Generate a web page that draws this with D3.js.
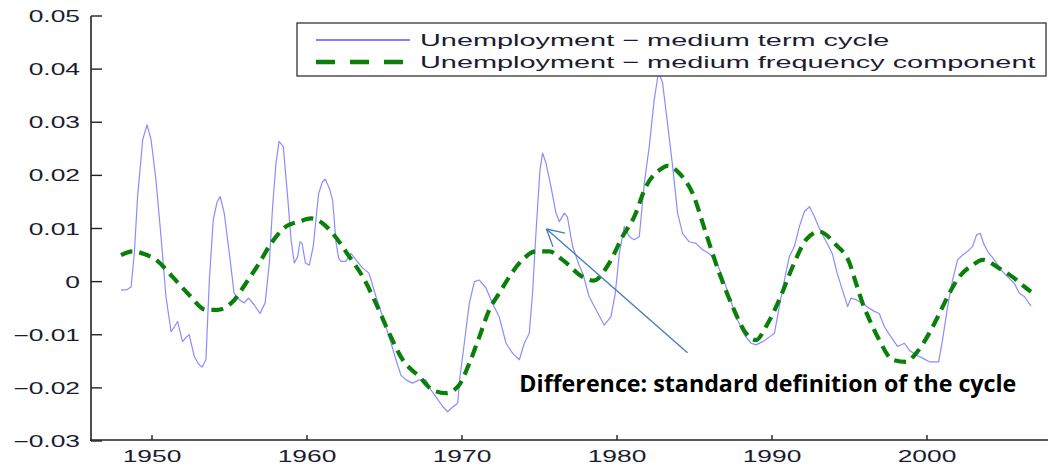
<!DOCTYPE html>
<html lang="en">
<head>
<meta charset="utf-8">
<title>Unemployment cycle</title>
<script src="https://cdn.jsdelivr.net/npm/d3@7"></script>
<style>
  body { margin: 0; background: #fff; }
  svg { display: block; }
  .tick-label { font-family: "Liberation Sans", Arial, sans-serif; font-size: 16px; fill: #1c1c30; }
  .legend-label { font-family: "Liberation Sans", Arial, sans-serif; font-size: 17px; fill: #1c1c30; }
  .note { font-family: "Open Sans", "Noto Sans", sans-serif; font-weight: bold; font-size: 24px; fill: #000; }
</style>
</head>
<body>
<div id="chart"></div>
<script>
// medium term cycle (thin blue line)
var blueYears = [1948.0, 1948.4, 1948.65, 1948.86, 1949.07, 1949.4, 1949.68, 1949.94, 1950.26, 1950.58, 1950.9,
  1951.23, 1951.45, 1951.65, 1951.97, 1952.2, 1952.4, 1952.73, 1953.0, 1953.23, 1953.48, 1953.7, 1953.95,
  1954.2, 1954.4, 1954.66, 1954.99, 1955.3, 1955.63, 1955.95, 1956.23, 1956.6, 1956.97, 1957.3, 1957.57,
  1957.78, 1958.0, 1958.2, 1958.47, 1958.75, 1958.97, 1959.18, 1959.4, 1959.55, 1959.68, 1959.9, 1960.15,
  1960.4, 1960.75, 1961.0, 1961.18, 1961.45, 1961.65, 1961.87, 1962.04, 1962.2, 1962.5, 1962.84, 1963.16,
  1963.6, 1964.0, 1964.45, 1964.88, 1965.3, 1965.74, 1966.06, 1966.39, 1966.8, 1967.25, 1967.68, 1968.0,
  1968.32, 1968.75, 1969.07, 1969.44, 1969.72, 1969.87, 1970.15, 1970.47, 1970.8, 1971.12, 1971.55, 1971.97,
  1972.4, 1972.84, 1973.27, 1973.7, 1974.02, 1974.34, 1974.55, 1974.77, 1975.03, 1975.2, 1975.42, 1975.74,
  1976.06, 1976.28, 1976.6, 1976.8, 1977.14, 1977.57, 1977.8, 1978.2, 1978.65, 1979.18, 1979.61, 1979.89,
  1980.15, 1980.47, 1980.79, 1981.11, 1981.44, 1981.76, 1982.08, 1982.4, 1982.68, 1982.94, 1983.26, 1983.59,
  1983.91, 1984.23, 1984.66, 1985.1, 1985.52, 1985.95, 1986.39, 1986.81, 1987.25, 1987.68, 1988.21, 1988.65,
  1988.97, 1989.4, 1989.84, 1990.16, 1990.47, 1990.8, 1991.12, 1991.44, 1991.77, 1992.09, 1992.42, 1992.74,
  1993.06, 1993.5, 1993.9, 1994.2, 1994.55, 1994.88, 1995.1, 1995.42, 1995.85, 1996.28, 1996.6, 1996.92,
  1997.25, 1997.68, 1998.1, 1998.54, 1998.86, 1999.29, 1999.72, 2000.15, 2000.47, 2000.75, 2001.0, 2001.33,
  2001.65, 2001.97, 2002.3, 2002.62, 2002.94, 2003.2, 2003.44, 2003.65, 2003.91, 2004.34, 2004.78, 2005.2,
  2005.63, 2005.96, 2006.28, 2006.71];
var blueValues = [-0.0016, -0.0015, -0.001, 0.0053, 0.016, 0.0267, 0.0295, 0.0267, 0.019, 0.0085, -0.0028,
  -0.0094, -0.0085, -0.0075, -0.0113, -0.0105, -0.010, -0.0141, -0.0155, -0.0161, -0.0147, 0.0003, 0.0116,
  0.015, 0.016, 0.0129, 0.0053, -0.0022, -0.0034, -0.004, -0.0031, -0.0044, -0.006, -0.004, 0.0035,
  0.0141, 0.0223, 0.0264, 0.0254, 0.016, 0.0079, 0.0035, 0.0047, 0.0075, 0.0072, 0.0035, 0.0031,
  0.0066, 0.0166, 0.0188, 0.0193, 0.0175, 0.0154, 0.0075, 0.0044, 0.0038, 0.0038, 0.0053, 0.0041,
  0.0025, 0.0016, -0.0028, -0.0066, -0.0104, -0.0147, -0.0176, -0.0185, -0.0191, -0.0185, -0.0185, -0.0204,
  -0.0217, -0.0235, -0.0245, -0.0235, -0.0229, -0.0179, -0.0116, -0.0041, 0.0, 0.0003, -0.0012, -0.0041,
  -0.0066, -0.0116, -0.0135, -0.0147, -0.0116, -0.0097, -0.0022, 0.0091, 0.021, 0.0242, 0.0223, 0.0179,
  0.0129, 0.0113, 0.0129, 0.0122, 0.0066, 0.003, 0.0015, -0.0028, -0.0053, -0.0082, -0.0066, -0.0022,
  0.0053, 0.0104, 0.0085, 0.0079, 0.0085, 0.0185, 0.0254, 0.0342, 0.0395, 0.0374, 0.0298, 0.0217,
  0.0129, 0.0091, 0.0075, 0.0072, 0.006, 0.0053, 0.0038, 0.0009, -0.0028, -0.0066, -0.01, -0.0116,
  -0.0119, -0.0113, -0.0104, -0.0097, -0.0047, 0.0003, 0.0047, 0.0066, 0.0104, 0.0132, 0.0141, 0.0122,
  0.010, 0.0075, 0.0052, 0.0016, -0.0016, -0.0047, -0.0031, -0.0034, -0.0041, -0.005, -0.0056, -0.006,
  -0.0085, -0.0104, -0.0122, -0.0116, -0.0129, -0.0138, -0.0144, -0.0151, -0.0151, -0.0151, -0.011, -0.0047,
  0.0003, 0.0041, 0.005, 0.0057, 0.0066, 0.0088, 0.0091, 0.0072, 0.0057, 0.0041, 0.0022, 0.0009,
  -0.0003, -0.0022, -0.0028, -0.0046];

// medium frequency component (green dashed)
var greenYears = [1948.0, 1948.75, 1949.5, 1950.26, 1951.33, 1952.4, 1953.48, 1954.23, 1955.2, 1956.06, 1956.92,
  1957.68, 1958.65, 1959.5, 1960.26, 1961.0, 1961.65, 1962.73, 1963.6, 1964.45, 1965.3, 1966.17, 1967.25,
  1968.11, 1968.97, 1969.83, 1970.47, 1971.12, 1971.76, 1972.4, 1973.05, 1973.9, 1974.77, 1975.63, 1976.49,
  1977.78, 1978.5, 1979.5, 1980.36, 1981.11, 1981.87, 1982.73, 1983.26, 1984.02, 1984.88, 1985.74, 1986.6,
  1987.46, 1988.32, 1988.97, 1989.6, 1990.47, 1991.33, 1992.2, 1993.06, 1994.1, 1995.0, 1995.42, 1995.85,
  1996.39, 1996.92, 1997.78, 1998.65, 1999.29, 2000.15, 2000.8, 2001.44, 2002.08, 2002.94, 2003.59, 2004.66,
  2005.52, 2006.39, 2006.71];
var greenValues = [0.005, 0.0057, 0.0052, 0.0041, 0.0009, -0.0025, -0.0053, -0.0053, -0.0038, -0.0003, 0.0035,
  0.0072, 0.0104, 0.0113, 0.0119, 0.011, 0.0091, 0.0047, 0.0009, -0.0041, -0.0097, -0.0147, -0.0179,
  -0.0204, -0.021, -0.0194, -0.0154, -0.0104, -0.0053, -0.0022, 0.0009, 0.0041, 0.0057, 0.0057, 0.0041,
  0.0009, 0.0002, 0.0035, 0.0085, 0.0122, 0.0179, 0.021, 0.0218, 0.0204, 0.0166, 0.0091, 0.0016,
  -0.0047, -0.0097, -0.011, -0.0085, -0.0034, 0.0028, 0.0079, 0.0094, 0.0070, 0.0035, -0.0003, -0.0041,
  -0.0078, -0.011, -0.0147, -0.0151, -0.0135, -0.0097, -0.006, -0.0022, 0.0009, 0.0031, 0.0041, 0.0025,
  0.0009, -0.0012, -0.0019];

var xTicks = [1950, 1960, 1970, 1980, 1990, 2000];
var yTicks = [-0.03, -0.02, -0.01, 0, 0.01, 0.02, 0.03, 0.04, 0.05];
var legendLabels = ["Unemployment \u2212 medium term cycle", "Unemployment \u2212 medium frequency component"];
var noteText = "Difference: standard definition of the cycle";
// arrow tail / tip and note position, in data units (year, value)
var arrowFrom = [1984.55, -0.0134], arrowTo = [1975.45, 0.0099];
var notePos = [1973.7, -0.0208];

var W = 1048, H = 470;
var stretch = 1.65; // the original figure is stretched sideways

var svg = d3.select("#chart").append("svg").attr("width", W).attr("height", H);

var x = d3.scaleLinear().domain([1946, 2008]).range([90, 1051]);
var y = d3.scaleLinear().domain([-0.03, 0.05]).range([441, 16]);

var blue = blueYears.map(function(d, i) { return [d, blueValues[i]]; });
var green = greenYears.map(function(d, i) { return [d, greenValues[i]]; });

var line = d3.line().x(function(d) { return x(d[0]); }).y(function(d) { return y(d[1]); });

svg.append("path")
    .datum(blue)
    .attr("d", line)
    .attr("fill", "none")
    .attr("stroke", "#8c8cff")
    .attr("stroke-width", 1.2)
    .attr("stroke-linejoin", "round");

svg.append("path")
    .datum(green)
    .attr("d", line.curve(d3.curveMonotoneX))
    .attr("fill", "none")
    .attr("stroke", "#0a800a")
    .attr("stroke-width", 4.2)
    .attr("stroke-dasharray", "12,7");

// axes
svg.append("line").attr("x1", 91).attr("x2", 91).attr("y1", y(0.05)).attr("y2", 441)
    .attr("stroke", "#222").attr("stroke-width", 1.6);
svg.append("line").attr("x1", 90).attr("x2", W).attr("y1", 440).attr("y2", 440)
    .attr("stroke", "#222").attr("stroke-width", 1.6);

var fmt = function(v) {
  if (Math.abs(v) < 1e-9) return "0";
  return (v < 0 ? "\u2212" : "") + d3.format(".2f")(Math.abs(v));
};

yTicks.forEach(function(v) {
  svg.append("line").attr("x1", 91).attr("x2", 102).attr("y1", y(v)).attr("y2", y(v))
      .attr("stroke", "#222").attr("stroke-width", 1.4);
  svg.append("text").attr("class", "tick-label")
      .attr("transform", "translate(80," + (y(v) + 6) + ") scale(" + stretch + ",1)")
      .attr("text-anchor", "end")
      .text(fmt(v));
});

xTicks.forEach(function(t) {
  svg.append("line").attr("x1", x(t)).attr("x2", x(t)).attr("y1", 440).attr("y2", 435)
      .attr("stroke", "#222").attr("stroke-width", 1.4);
  svg.append("text").attr("class", "tick-label")
      .attr("transform", "translate(" + x(t) + ",462) scale(" + stretch + ",1)")
      .attr("text-anchor", "middle")
      .text(t);
});

// legend
var lg = svg.append("g");
lg.append("rect").attr("x", 297).attr("y", 23).attr("width", 749).attr("height", 53)
    .attr("fill", "#fff").attr("stroke", "#333").attr("stroke-width", 1.3);
lg.append("line").attr("x1", 316).attr("x2", 410).attr("y1", 40).attr("y2", 40)
    .attr("stroke", "#0000ff").attr("stroke-width", 1.2);
lg.append("line").attr("x1", 316).attr("x2", 410).attr("y1", 62).attr("y2", 62)
    .attr("stroke", "#0a800a").attr("stroke-width", 4.5).attr("stroke-dasharray", "19,15");
legendLabels.forEach(function(s, i) {
  lg.append("text").attr("class", "legend-label")
      .attr("transform", "translate(420," + (46 + i * 22) + ") scale(1.7,1)")
      .text(s);
});

// annotation
var ax1 = x(arrowFrom[0]), ay1 = y(arrowFrom[1]), ax2 = x(arrowTo[0]), ay2 = y(arrowTo[1]);
var ang = Math.atan2(ay2 - ay1, ax2 - ax1);
svg.append("line").attr("x1", ax1).attr("y1", ay1).attr("x2", ax2).attr("y2", ay2)
    .attr("stroke", "#4a7ebb").attr("stroke-width", 1.4);
[-0.5, 0.5].forEach(function(da) {
  svg.append("line").attr("x1", ax2).attr("y1", ay2)
      .attr("x2", ax2 - 19 * Math.cos(ang + da)).attr("y2", ay2 - 19 * Math.sin(ang + da))
      .attr("stroke", "#4a7ebb").attr("stroke-width", 1.4);
});

svg.append("text").attr("class", "note")
    .attr("x", x(notePos[0])).attr("y", y(notePos[1]))
    .attr("textLength", 497).attr("lengthAdjust", "spacingAndGlyphs")
    .text(noteText);
</script>
</body>
</html>
